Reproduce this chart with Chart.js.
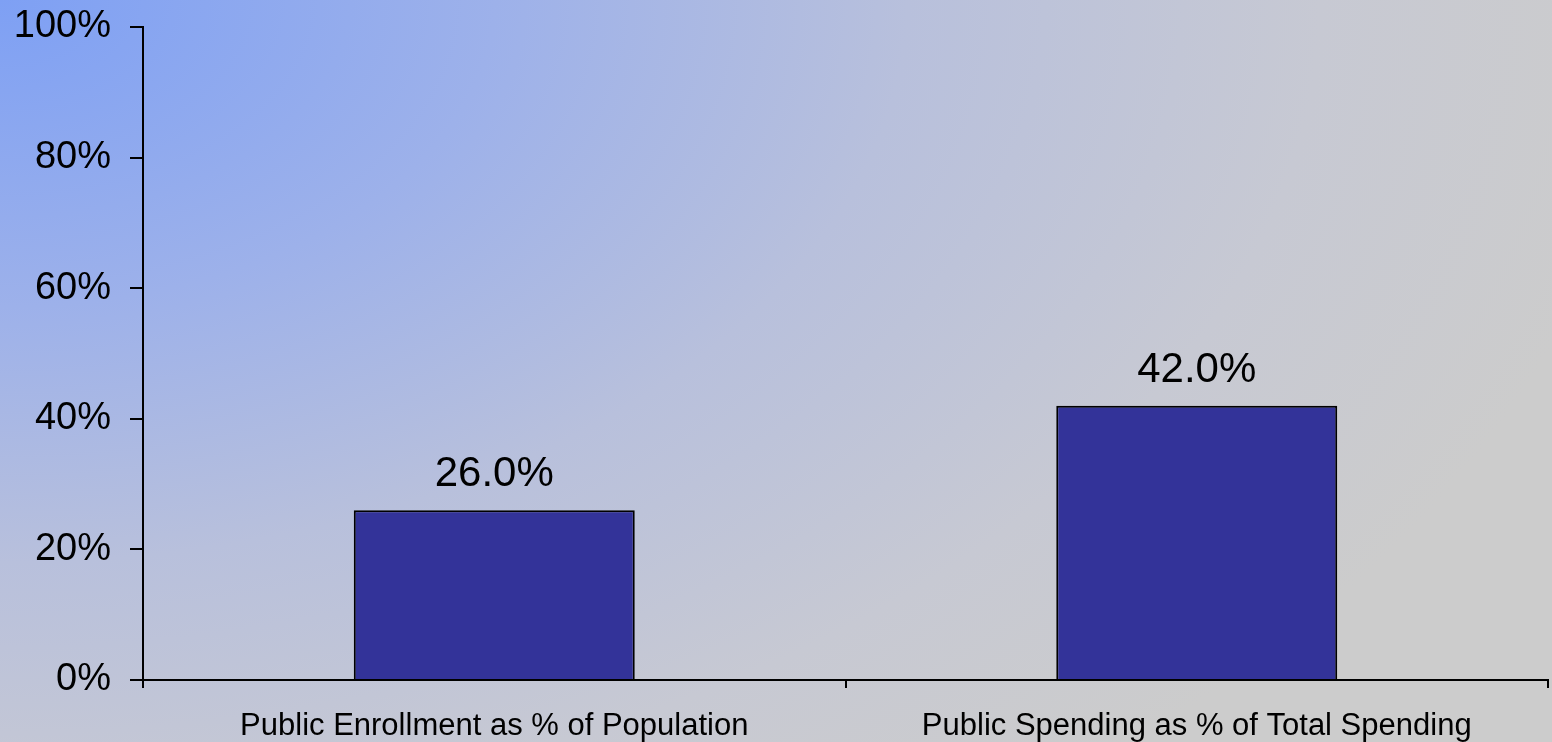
<!DOCTYPE html>
<html>
<head>
<meta charset="utf-8">
<script src="https://cdn.jsdelivr.net/npm/chart.js@4"></script>
<style>
html,body{margin:0;padding:0;overflow:hidden;}
#wrap{width:1552px;height:742px;position:relative;}
</style>
</head>
<body>
<div id="wrap"><canvas id="c" width="1552" height="742"></canvas></div>
<script>
const categories = ["Public Enrollment as % of Population", "Public Spending as % of Total Spending"];
const values = [26.0, 42.0];
const yTicks = [0, 20, 40, 60, 80, 100];

const FONT = "'Liberation Sans', Arial, sans-serif";

const bgPlugin = {
  id: 'bg',
  beforeDraw(chart) {
    const ctx = chart.ctx;
    const w = chart.width, h = chart.height;
    ctx.save();
    ctx.scale(1, 0.62);
    const g = ctx.createRadialGradient(0, 0, 0, 0, 0, 1650);
    g.addColorStop(0, '#7ea0f4');
    g.addColorStop(0.3, '#9db1ea');
    g.addColorStop(0.55, '#b8c0dc');
    g.addColorStop(0.8, '#c7c9d3');
    g.addColorStop(1, '#cccccc');
    ctx.fillStyle = g;
    ctx.fillRect(0, 0, w, h / 0.62);
    ctx.restore();
  }
};

const labelPlugin = {
  id: 'vlabels',
  afterDatasetsDraw(chart) {
    const ctx = chart.ctx;
    const meta = chart.getDatasetMeta(0);
    ctx.save();
    ctx.font = '42px ' + FONT;
    ctx.fillStyle = '#000';
    ctx.textAlign = 'center';
    ctx.textBaseline = 'alphabetic';
    meta.data.forEach((bar, i) => {
      ctx.fillText(values[i].toFixed(1) + '%', bar.x, bar.y - 24);
    });
    ctx.restore();
  }
};

new Chart(document.getElementById('c'), {
  type: 'bar',
  data: {
    labels: categories,
    datasets: [{
      data: values,
      backgroundColor: '#333399',
      borderColor: '#000000',
      borderWidth: 2,
      barPercentage: 0.4,
      categoryPercentage: 1.0
    }]
  },
  options: {
    responsive: false,
    animation: false,
    devicePixelRatio: 1,
    layout: { padding: { top: 27, right: 4, left: 0, bottom: 0 } },
    plugins: { legend: { display: false }, tooltip: { enabled: false } },
    scales: {
      x: {
        offset: true,
        grid: { drawOnChartArea: false, offset: true, tickLength: 8, color: '#000', lineWidth: 2 },
        border: { color: '#000', width: 2 },
        ticks: { color: '#000', font: { family: FONT, size: 31 }, padding: 20, maxRotation: 0, autoSkip: false },
        afterFit(scale) { scale.height = 62; scale.paddingLeft = 0; scale.paddingRight = 0; }
      },
      y: {
        min: 0, max: 100,
        afterBuildTicks(scale) { scale.ticks = yTicks.map(v => ({ value: v })); },
        grid: { drawOnChartArea: false, tickLength: 13, color: '#000', lineWidth: 2 },
        border: { color: '#000', width: 2 },
        ticks: { color: '#000', font: { family: FONT, size: 38 }, padding: 19, callback: v => v + '%' },
        afterFit(scale) { scale.width = 143; scale.paddingTop = 0; scale.paddingBottom = 0; }
      }
    }
  },
  plugins: [bgPlugin, labelPlugin]
});
</script>
</body>
</html>
